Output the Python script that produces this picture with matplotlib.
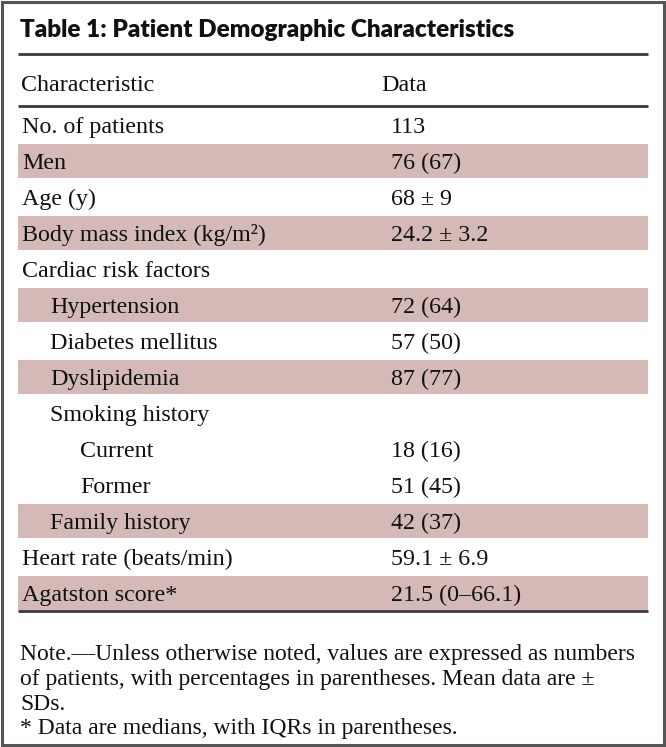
import matplotlib
matplotlib.use("Agg")
import matplotlib.pyplot as plt
from matplotlib.patches import Rectangle

title = "Table 1: Patient Demographic Characteristics"
headers = ["Characteristic", "Data"]
labels = ["No. of patients", "Men", "Age (y)", "Body mass index (kg/m\u00b2)",
          "Cardiac risk factors", "Hypertension", "Diabetes mellitus", "Dyslipidemia",
          "Smoking history", "Current", "Former", "Family history",
          "Heart rate (beats/min)", "Agatston score*"]
indent = [0, 0, 0, 0, 0, 1, 1, 1, 1, 2, 2, 1, 0, 0]
values = ["113", "76 (67)", "68 \u00b1 9", "24.2 \u00b1 3.2", "", "72 (64)", "57 (50)",
          "87 (77)", "", "18 (16)", "51 (45)", "42 (37)", "59.1 \u00b1 6.9", "21.5 (0\u201366.1)"]
shaded = [False, True, False, True, False, True, False, True, False, False, False, True, False, True]
notes = ["Note.\u2014Unless otherwise noted, values are expressed as numbers",
         "of patients, with percentages in parentheses. Mean data are \u00b1",
         "SDs.",
         "* Data are medians, with IQRs in parentheses."]

W, H = 666, 747
fig = plt.figure(figsize=(W / 100, H / 100), dpi=100)
ax = fig.add_axes([0, 0, 1, 1])
ax.set_xlim(0, W)
ax.set_ylim(H, 0)
ax.axis("off")

serif = ["Liberation Serif", "DejaVu Serif"]
fs = 17.3
shade_col = "#d4b9b7"
rule_col = "#3a3a3a"

# outer frame
ax.add_patch(Rectangle((1.5, 1.5), W - 3.5, H - 3.5, fill=False, edgecolor="#555555", lw=2.2))

ax.text(20, 37, title, fontsize=17.5, fontweight="heavy", family=["Lato", "DejaVu Sans"],
        va="baseline", ha="left", color="#111111")

x0, x1 = 18, 648
ax.plot([x0, x1], [54, 54], color=rule_col, lw=2, solid_capstyle="butt")
ax.text(21, 91, headers[0], fontsize=fs, family=serif, va="baseline", color="#111111")
ax.text(381, 91, headers[1], fontsize=fs, family=serif, va="baseline", color="#111111")
ax.plot([x0, x1], [106, 106], color=rule_col, lw=2, solid_capstyle="butt")

top = 107
rh = 36
ind_px = [22, 50, 80]
for i, (lab, val) in enumerate(zip(labels, values)):
    y = top + i * rh
    if shaded[i]:
        ax.add_patch(Rectangle((x0, y + 1), x1 - x0, rh - 2, facecolor=shade_col, edgecolor="none"))
    ax.text(ind_px[indent[i]], y + 26, lab, fontsize=fs, family=serif, va="baseline", color="#111111")
    if val:
        ax.text(391, y + 26, val, fontsize=fs, family=serif, va="baseline", color="#111111")

ax.plot([x0, x1], [top + len(labels) * rh, top + len(labels) * rh], color=rule_col, lw=2,
        solid_capstyle="butt")

note_base = [660, 685, 710, 734]
for j, line in enumerate(notes):
    ax.text(20, note_base[j], line, fontsize=17, family=serif, va="baseline", color="#111111")

fig.savefig("out.png", dpi=100)
